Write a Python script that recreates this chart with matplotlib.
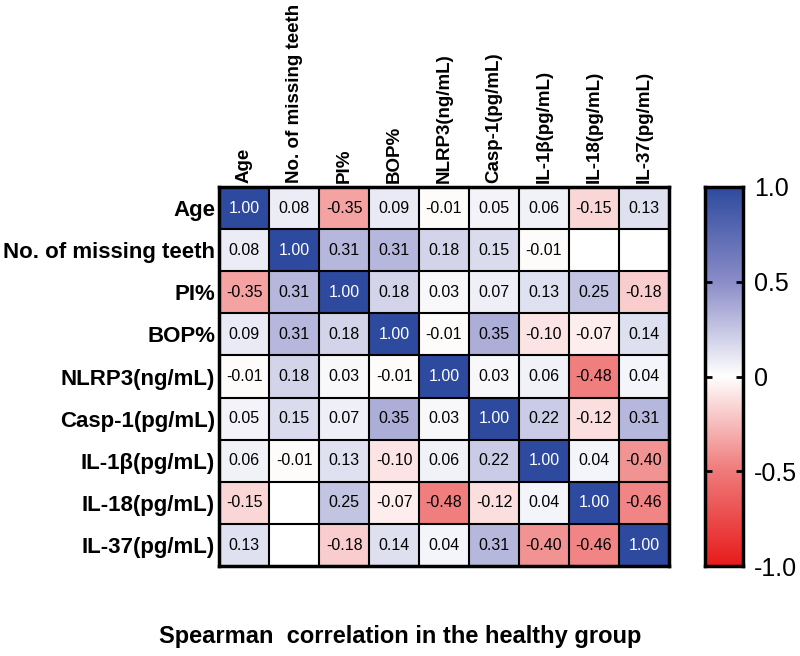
import numpy as np
import matplotlib.pyplot as plt
from matplotlib.colors import LinearSegmentedColormap

plt.rcParams['font.family'] = ['Liberation Sans', 'DejaVu Sans']

labels = ['Age', 'No. of missing teeth', 'PI%', 'BOP%', 'NLRP3(ng/mL)',
          'Casp-1(pg/mL)', 'IL-1β(pg/mL)', 'IL-18(pg/mL)', 'IL-37(pg/mL)']

nan = np.nan
corr = np.array([
    [1.00, 0.08, -0.35, 0.09, -0.01, 0.05, 0.06, -0.15, 0.13],
    [0.08, 1.00, 0.31, 0.31, 0.18, 0.15, -0.01, nan, nan],
    [-0.35, 0.31, 1.00, 0.18, 0.03, 0.07, 0.13, 0.25, -0.18],
    [0.09, 0.31, 0.18, 1.00, -0.01, 0.35, -0.10, -0.07, 0.14],
    [-0.01, 0.18, 0.03, -0.01, 1.00, 0.03, 0.06, -0.48, 0.04],
    [0.05, 0.15, 0.07, 0.35, 0.03, 1.00, 0.22, -0.12, 0.31],
    [0.06, -0.01, 0.13, -0.10, 0.06, 0.22, 1.00, 0.04, -0.40],
    [-0.15, nan, 0.25, -0.07, -0.48, -0.12, 0.04, 1.00, -0.46],
    [0.13, nan, -0.18, 0.14, 0.04, 0.31, -0.40, -0.46, 1.00],
])

cbar_ticks = [-1, -0.5, 0, 0.5, 1]
cbar_labels = ['-1.0', '-0.5', '0', '0.5', '1.0']

cmap = LinearSegmentedColormap.from_list('rwb', [
    (0.0, '#e81c1c'), (0.25, '#f07a7a'), (0.5, '#ffffff'),
    (0.75, '#8a8cc8'), (1.0, '#2e4a9e')])
cmap.set_bad('white')

fig = plt.figure(figsize=(8, 6.56), dpi=100)
ax = fig.add_axes([0.274, 0.137, 0.562, 0.578])
n = len(labels)
ax.imshow(np.ma.masked_invalid(corr), cmap=cmap, vmin=-1, vmax=1,
          aspect='auto', extent=(0, n, n, 0), interpolation='nearest')

for i in range(1, n):
    ax.axhline(i, color='black', lw=1.5)
    ax.axvline(i, color='black', lw=1.5)
for s in ax.spines.values():
    s.set_linewidth(2.5)

for i in range(n):
    for j in range(n):
        v = corr[i, j]
        if np.isnan(v):
            continue
        ax.text(j + 0.5, i + 0.5, f'{v:.2f}', ha='center', va='center',
                fontsize=11.5, color='white' if v > 0.8 else 'black')

ax.set_xlim(0, n)
ax.set_ylim(n, 0)
ax.set_xticks(np.arange(n) + 0.5)
ax.set_yticks(np.arange(n) + 0.5)
ax.set_xticklabels(labels, rotation=90, fontsize=13.5, fontweight='bold')
ax.set_yticklabels(labels, fontsize=16, fontweight='bold')
ax.xaxis.tick_top()
ax.tick_params(length=0, pad=3)

cax = fig.add_axes([0.881, 0.137, 0.048, 0.578])
grad = np.linspace(-1, 1, 256).reshape(-1, 1)
cax.imshow(grad, cmap=cmap, vmin=-1, vmax=1, aspect='auto',
           extent=(0, 1, -1, 1), origin='lower')
cax.set_xticks([])
cax.set_ylim(-1, 1)
cax.set_yticks(cbar_ticks)
cax.set_yticklabels(cbar_labels, fontsize=18)
cax.yaxis.tick_right()
cax.tick_params(axis='y', direction='in', length=5, width=2, pad=8,
                left=True, right=True, labelright=True)
for s in cax.spines.values():
    s.set_linewidth(2.5)

fig.text(0.5, 0.012, 'Spearman  correlation in the healthy group', ha='center',
         va='bottom', fontsize=17, fontweight='bold')

fig.savefig('out.png', dpi=100)
